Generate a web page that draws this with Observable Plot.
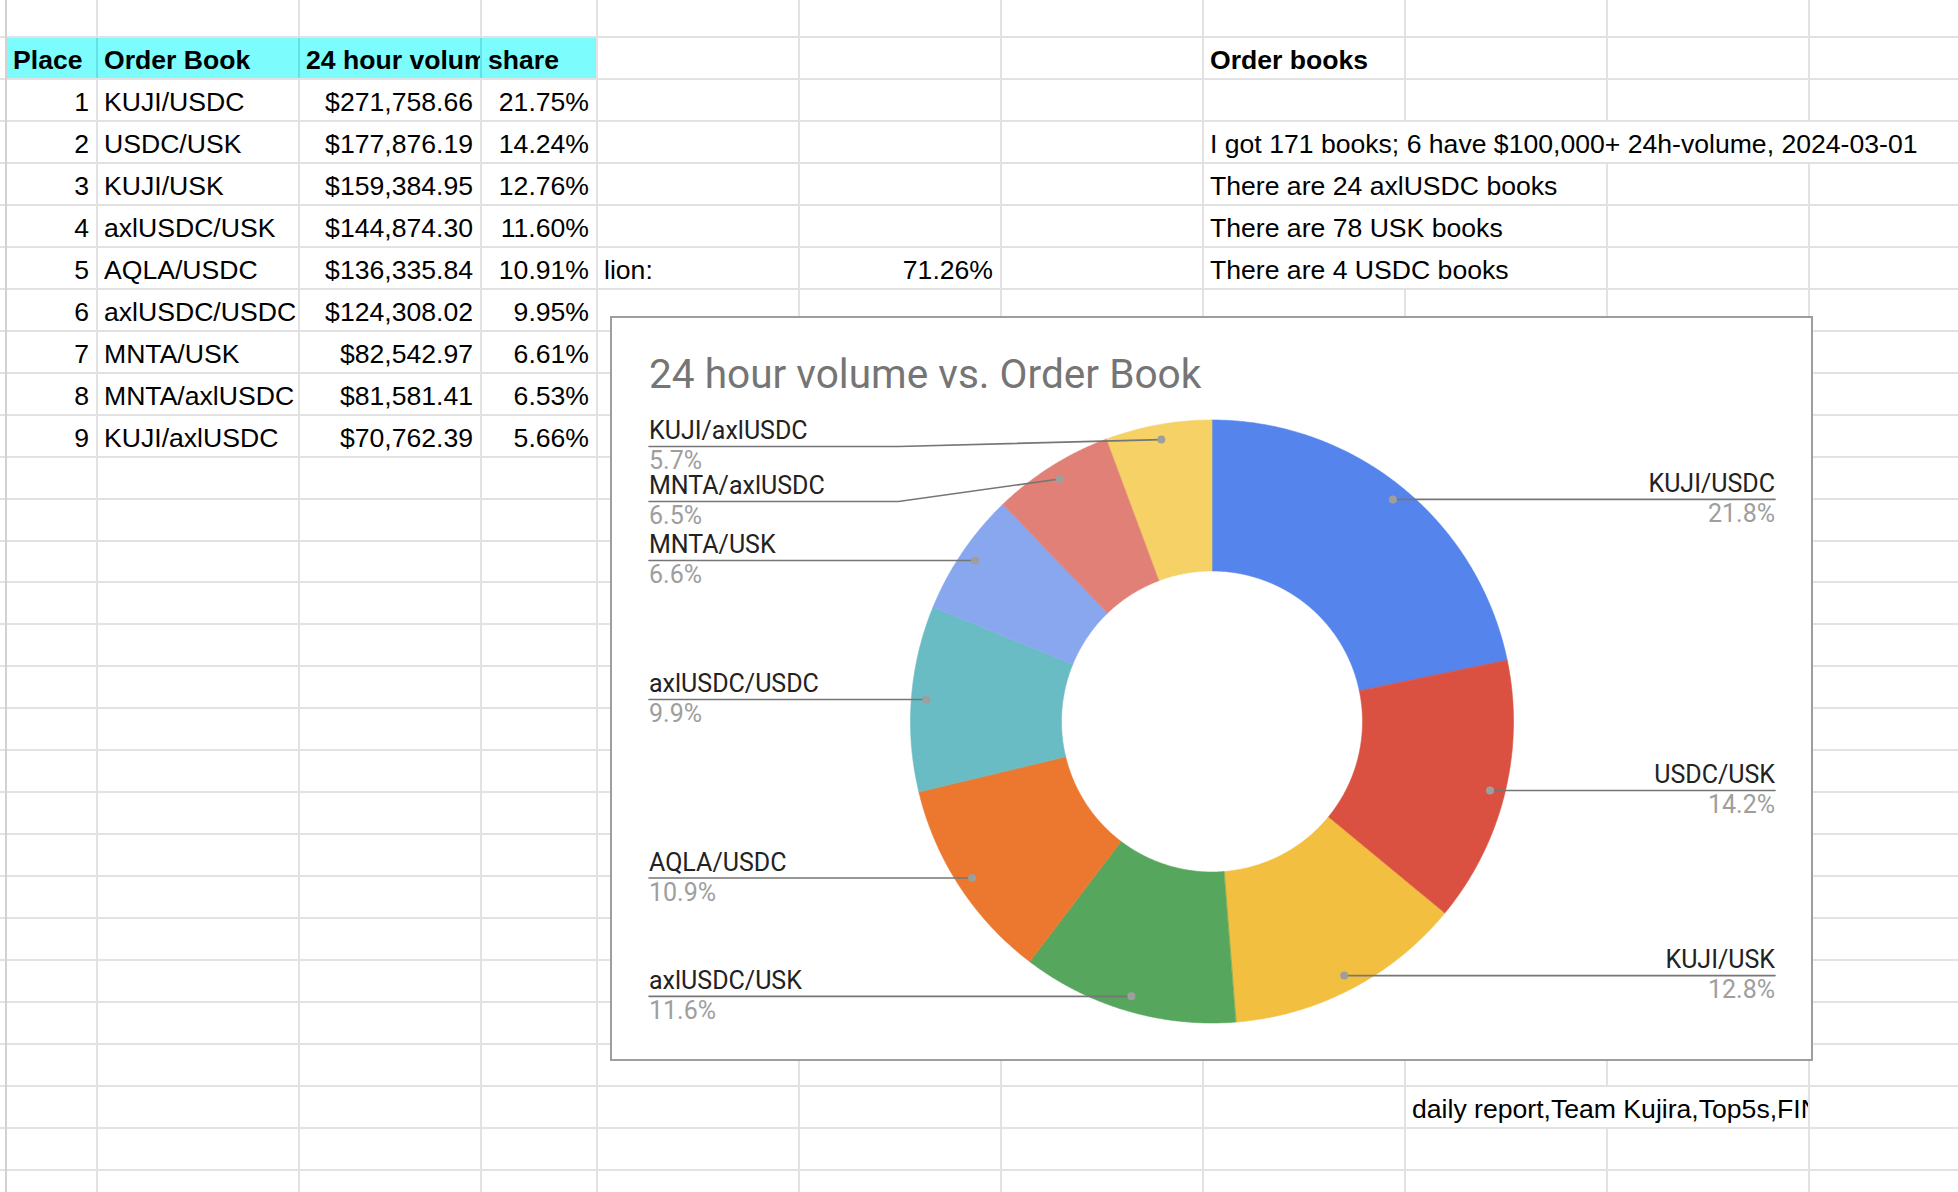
<!DOCTYPE html>
<html>
<head>
<meta charset="utf-8">
<script src="https://cdn.jsdelivr.net/npm/d3@7"></script>
<script src="https://cdn.jsdelivr.net/npm/@observablehq/plot@0.6"></script>
<style>
  html, body { margin: 0; padding: 0; background: #fff; }
  body { width: 1958px; height: 1192px; overflow: hidden; position: relative; font-family: "Liberation Sans", Arial, sans-serif; }
  .abs { position: absolute; }
  .cell { position: absolute; overflow: hidden; white-space: nowrap; font-size: 26.6px; color: #000; box-sizing: border-box; }
</style>
</head>
<body>
<div id="sheet"></div>
<script>
// ---- data ----
const places = [1, 2, 3, 4, 5, 6, 7, 8, 9];
const books = ["KUJI/USDC", "USDC/USK", "KUJI/USK", "axlUSDC/USK", "AQLA/USDC", "axlUSDC/USDC", "MNTA/USK", "MNTA/axlUSDC", "KUJI/axlUSDC"];
const volumes = [271758.66, 177876.19, 159384.95, 144874.30, 136335.84, 124308.02, 82542.97, 81581.41, 70762.39];
const shares = [21.75, 14.24, 12.76, 11.60, 10.91, 9.95, 6.61, 6.53, 5.66];
const sliceColors = ["#5484ec", "#da5142", "#f3bf40", "#57a65e", "#ec772f", "#69bcc3", "#88a7ef", "#e18076", "#f5d166"];
const headers = ["Place", "Order Book", "24 hour volume", "share"];
const noteTitle = "Order books";
const notes = ["I got 171 books; 6 have $100,000+ 24h-volume, 2024-03-01", "There are 24 axlUSDC books", "There are 78 USK books", "There are 4 USDC books"];
const sideLabel = "lion:";
const sideValue = "71.26%";
const footer = "daily report,Team Kujira,Top5s,FIN";
const chartTitle = "24 hour volume vs. Order Book";

// ---- spreadsheet grid ----
const sheet = document.getElementById("sheet");
const colX = [6, 97, 299, 481, 597, 799, 1001, 1203, 1405, 1607, 1809, 2011];
const rowH = 41.96, row0 = 37;
const rowY = k => row0 + rowH * k;

function box(l, t, w, h, bg, z) {
  const d = document.createElement("div");
  d.className = "abs";
  Object.assign(d.style, {left: l + "px", top: t + "px", width: w + "px", height: h + "px", background: bg, zIndex: z || 0});
  sheet.appendChild(d);
  return d;
}
for (let k = -1; k <= 28; k++) box(0, rowY(k) - 1, 1958, 2, "#e2e2e2", 1);
colX.forEach((x, i) => box(x - 1, 0, 2, 1192, i === 0 ? "#d2d2d2" : "#e2e2e2", 1));

// header background
box(colX[0] + 1, rowY(0) + 1, colX[4] - colX[0] - 2, rowH - 2, "#7cfcfd", 2);
for (let i = 1; i < 4; i++) box(colX[i] - 1, rowY(0) + 1, 2, rowH - 2, "#62e2e5", 3);

function cell(k, c0, c1, text, opts = {}) {
  const d = document.createElement("div");
  d.className = "cell";
  const bg = opts.bg || "transparent";
  Object.assign(d.style, {
    left: (colX[c0] + 1) + "px", top: (rowY(k) + 1) + "px",
    width: (colX[c1] - colX[c0] - 2) + "px", height: (rowH - 2) + "px",
    lineHeight: (rowH - 2 + 5) + "px", textAlign: opts.align || "left",
    paddingLeft: "6px", paddingRight: "7px", fontWeight: opts.bold ? "bold" : "normal",
    background: bg, zIndex: 4
  });
  d.textContent = text;
  sheet.appendChild(d);
}
headers.forEach((h, i) => cell(0, i, i + 1, h, {bold: true}));
const fmt = d3.format(",.2f");
places.forEach((p, i) => {
  const k = i + 1;
  cell(k, 0, 1, String(p), {align: "right"});
  cell(k, 1, 2, books[i]);
  cell(k, 2, 3, "$" + fmt(volumes[i]), {align: "right"});
  cell(k, 3, 4, shares[i].toFixed(2) + "%", {align: "right"});
});
cell(0, 7, 8, noteTitle, {bold: true});
cell(2, 7, 11, notes[0], {bg: "#fff"});
cell(3, 7, 9, notes[1], {bg: "#fff"});
cell(4, 7, 9, notes[2], {bg: "#fff"});
cell(5, 7, 9, notes[3], {bg: "#fff"});
cell(5, 4, 5, sideLabel);
cell(5, 5, 6, sideValue, {align: "right"});
cell(25, 8, 10, footer, {bg: "#fff"});

// ---- chart box ----
const chartBox = box(610, 316, 1203, 745, "#fff", 10);
chartBox.style.border = "2px solid #9e9e9e";
chartBox.style.boxSizing = "border-box";

const titleDiv = document.createElement("div");
Object.assign(titleDiv.style, {position: "absolute", left: (649 - 612) + "px", top: (354 - 318) + "px",
  font: "40.6px Roboto, sans-serif", lineHeight: "40px", color: "#757575", whiteSpace: "nowrap", zIndex: 12});
titleDiv.textContent = chartTitle;

const W = 1199, H = 741, cx = 599.5, cy = 403;
const R = 301.5, r0 = 150.5;
const total = d3.sum(volumes);
const arcs = d3.pie().sort(null).value(d => d)(volumes);

const slicePts = [];
arcs.forEach((a, i) => {
  const n = Math.max(8, Math.ceil((a.endAngle - a.startAngle) / 0.006));
  for (let j = 0; j <= n; j++) {
    const t = a.startAngle + (a.endAngle - a.startAngle) * j / n;
    slicePts.push({book: books[i], x: R * Math.sin(t), y: -R * Math.cos(t)});
  }
  for (let j = n; j >= 0; j--) {
    const t = a.startAngle + (a.endAngle - a.startAngle) * j / n;
    slicePts.push({book: books[i], x: r0 * Math.sin(t), y: -r0 * Math.cos(t)});
  }
});

const dotR = 0.95 * R;
const labels = arcs.map((a, i) => {
  const m = (a.startAngle + a.endAngle) / 2;
  return {book: books[i], pct: (volumes[i] / total * 100).toFixed(1) + "%",
    dx: dotR * Math.sin(m), dy: -dotR * Math.cos(m), left: m > Math.PI};
});
const topBound = -275, gap = 55, textX = 563, elbowX = 1.04 * R;
for (const side of [true, false]) {
  const arr = labels.filter(d => d.left === side).sort((a, b) => a.dy - b.dy);
  let prev = -Infinity;
  for (const d of arr) {
    d.ly = Math.max(d.dy, prev + gap, topBound);
    prev = d.ly;
  }
}
const linePts = [];
labels.forEach(d => {
  const s = d.left ? -1 : 1;
  linePts.push({book: d.book, x: s * textX, y: d.ly});
  linePts.push({book: d.book, x: s * elbowX, y: d.ly});
  linePts.push({book: d.book, x: d.dx, y: d.dy});
});
const leftL = labels.filter(d => d.left), rightL = labels.filter(d => !d.left);
const font = {fontFamily: "Roboto, sans-serif", fontSize: 25, lineAnchor: "bottom"};

const chart = Plot.plot({
  width: W, height: H, margin: 0,
  x: {domain: [-cx, W - cx], range: [0, W], axis: null},
  y: {domain: [-cy, H - cy], range: [0, H], axis: null},
  color: {domain: books, range: sliceColors},
  style: {background: "transparent", overflow: "visible"},
  marks: [
    Plot.line(slicePts, {x: "x", y: "y", z: "book", fill: "book", stroke: "book", strokeWidth: 0.6, curve: "linear-closed"}),
    Plot.line(linePts, {x: "x", y: "y", z: "book", stroke: "#767676", strokeWidth: 1.6}),
    Plot.dot(labels, {x: "dx", y: "dy", r: 4, fill: "#9e9e9e"}),
    Plot.text(leftL, {x: () => -textX, y: d => d.ly - 7.5, text: "book", textAnchor: "start", fill: "#222", ...font}),
    Plot.text(leftL, {x: () => -textX, y: d => d.ly + 22.5, text: "pct", textAnchor: "start", fill: "#9e9e9e", ...font}),
    Plot.text(rightL, {x: () => textX, y: d => d.ly - 7.5, text: "book", textAnchor: "end", fill: "#222", ...font}),
    Plot.text(rightL, {x: () => textX, y: d => d.ly + 22.5, text: "pct", textAnchor: "end", fill: "#9e9e9e", ...font})
  ]
});
chart.style.position = "absolute";
chart.style.left = "0px";
chart.style.top = "0px";
chartBox.appendChild(chart);
chartBox.appendChild(titleDiv);
</script>
</body>
</html>
